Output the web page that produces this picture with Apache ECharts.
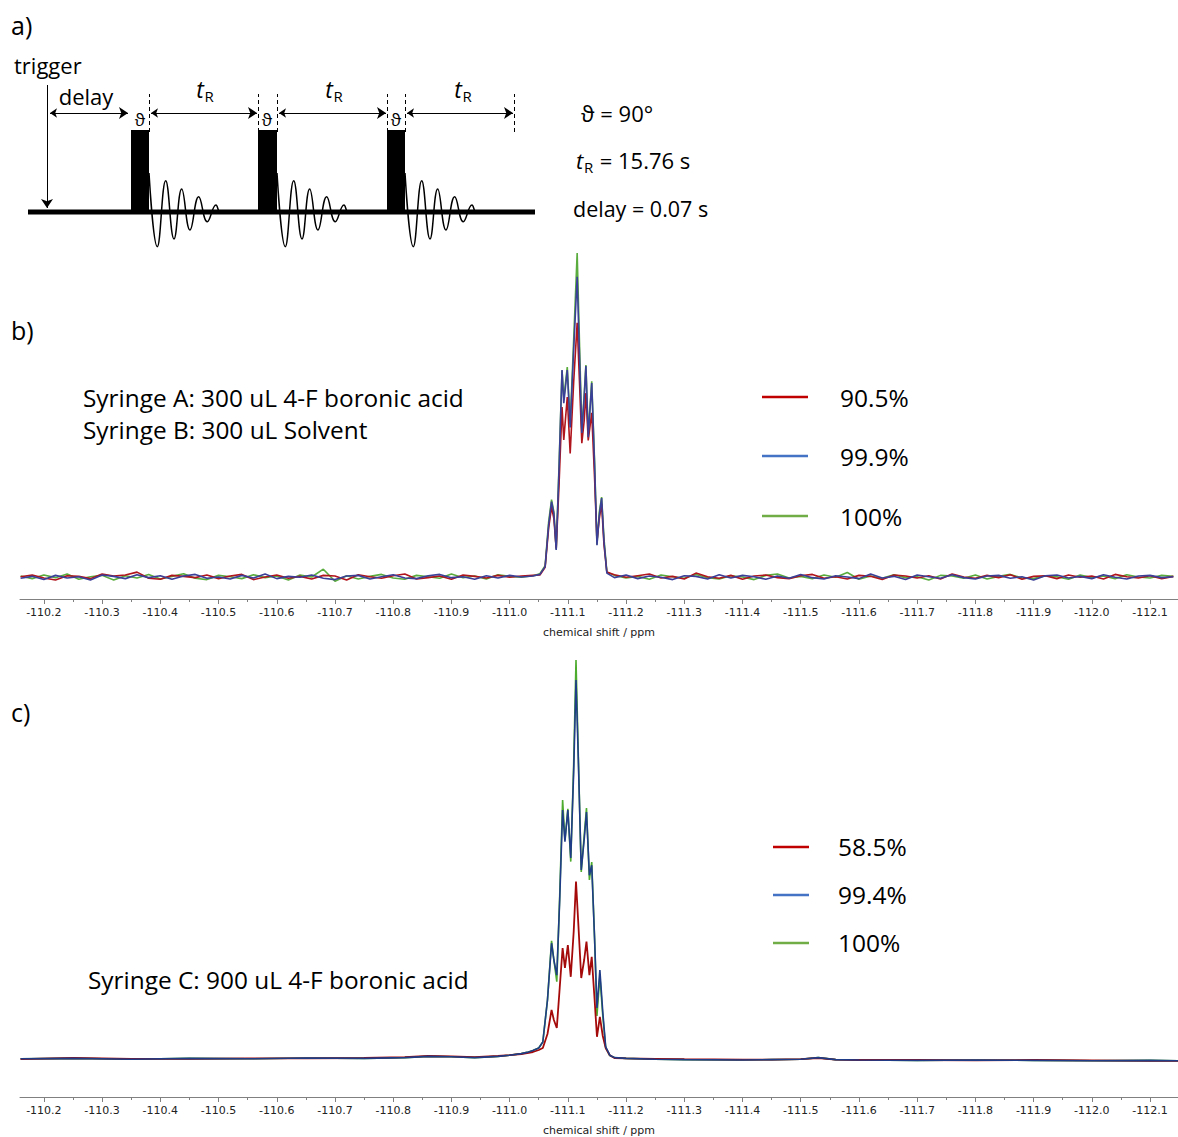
<!DOCTYPE html>
<html>
<head>
<meta charset="utf-8">
<title>19F NMR – triggered acquisition</title>
<script src="https://cdn.jsdelivr.net/npm/echarts@6/dist/echarts.min.js"></script>
<style>
  html, body { margin: 0; padding: 0; background: #fff; }
  #chart { width: 1178px; height: 1137px; }
</style>
</head>
<body>
<div id="chart"></div>
<script>
// ---------- spectrum b: chemical shift grid (ppm) ----------
const ppmB = [
  -110.16, -110.18, -110.20, -110.22, -110.24, -110.26, -110.28, -110.30, -110.32, -110.34,
  -110.36, -110.38, -110.40, -110.42, -110.44, -110.46, -110.48, -110.50, -110.52, -110.54,
  -110.56, -110.58, -110.60, -110.62, -110.64, -110.66, -110.68, -110.70, -110.72, -110.74,
  -110.76, -110.78, -110.80, -110.82, -110.84, -110.86, -110.88, -110.90, -110.92, -110.94,
  -110.96, -110.98, -111.00, -111.02, -111.04,
  -111.052, -111.061, -111.067, -111.072, -111.076, -111.080, -111.085, -111.090, -111.093, -111.099,
  -111.104, -111.110, -111.116, -111.120, -111.124, -111.128, -111.131, -111.135, -111.141, -111.146,
  -111.150, -111.154, -111.158, -111.162, -111.167,
  -111.18, -111.20, -111.22, -111.24, -111.26, -111.28, -111.30, -111.32, -111.34, -111.36,
  -111.38, -111.40, -111.42, -111.44, -111.46, -111.48, -111.50, -111.52, -111.54, -111.56,
  -111.58, -111.60, -111.62, -111.64, -111.66, -111.68, -111.70, -111.72, -111.74, -111.76,
  -111.78, -111.80, -111.82, -111.84, -111.86, -111.88, -111.90, -111.92, -111.94, -111.96,
  -111.98, -112.00, -112.02, -112.04, -112.06, -112.08, -112.10, -112.12, -112.14
];
// intensities (tallest line of the 100% trace = 100)
const b100 = [
  0.3, -0.5, 0.6, -0.2, 0.9, -0.7, 0.1, 0.5, -0.9, 0.4,
  -0.3, 0.8, -0.6, 0.2, 1.0, -0.4, -0.8, 0.5, 0.1, -0.5,
  0.7, -0.2, 0.3, -0.9, 0.6, 0.0, 2.4, -1.3, 0.4, -0.6,
  0.2, 0.8, -0.3, -0.7, 0.5, 0.1, -0.4, 0.9, -0.2, 0.3,
  -0.6, 0.7, 0.2, -0.1, 0.4,
  1.0, 3.5, 17, 23.8, 20, 8.5, 35, 63.5, 55, 64.6,
  47, 73, 99.7, 72, 45, 56, 65.2, 44, 60.2, 35,
  10, 20, 24.6, 12, 1.5,
  0.5, -0.3, 0.2, -0.7, 0.6, 0.1, -0.4, 0.8, -0.2, -0.6,
  0.4, 0.0, -0.8, 0.5, 0.9, -0.3, 0.2, -0.5, 0.6, -0.1,
  1.4, -0.7, 0.3, -0.4, 0.7, -0.2, 0.1, -0.9, 0.5, 0.3,
  -0.4, 0.6, -0.6, 0.2, 0.8, -0.3, -0.5, 0.4, 0.1, -0.7,
  0.6, -0.2, 0.3, -0.5, 0.7, 0.0, -0.3, 0.5, 0.2
];
const b999 = [
  -0.4, 0.2, -0.8, 0.5, -0.3, 0.1, -0.9, 0.6, 0.2, -0.5,
  0.7, -0.2, 0.4, -0.7, 0.3, 0.8, -0.4, 0.0, -0.6, 0.5,
  -0.3, 0.9, -0.5, 0.2, -0.1, 0.6, -0.4, -0.8, 0.3, 0.5,
  -0.6, 0.1, 0.7, -0.3, -0.5, 0.4, 0.8, -0.2, 0.1, -0.7,
  0.4, -0.3, 0.5, 0.0, 0.3,
  0.8, 3.2, 16, 23.2, 19.5, 8.3, 34, 63.7, 53.5, 63.7,
  46, 70, 92.4, 68, 44.3, 55, 64.9, 43, 59.7, 34,
  9.8, 19, 24.3, 11, 1.2,
  -0.2, 0.6, -0.5, 0.3, -0.1, -0.8, 0.4, 0.2, -0.6, 0.7,
  -0.3, 0.5, 0.1, -0.7, 0.3, -0.4, 0.8, -0.2, -0.6, 0.4,
  0.0, -0.5, 0.9, -0.3, 0.2, -0.8, 0.6, 0.1, -0.4, 0.7,
  -0.2, -0.6, 0.3, 0.5, -0.4, 0.1, -0.9, 0.4, 0.6, -0.3,
  0.2, -0.5, 0.7, -0.1, -0.6, 0.3, 0.5, -0.2, 0.1
];
const b905 = [
  0.1, 0.6, -0.3, -0.9, 0.4, 0.2, -0.5, 0.9, 0.3, 0.6,
  1.5, -0.4, -0.7, 0.5, 0.2, -0.2, 0.6, -0.5, 0.3, 0.8,
  -0.8, 0.0, 0.6, -0.4, 0.2, -0.6, 0.5, 0.3, -0.9, 0.7,
  0.1, -0.4, 0.4, 0.9, -0.6, -0.2, 0.3, -0.7, 0.6, 0.2,
  -0.3, 0.5, -0.1, 0.3, 0.5,
  0.6, 3.0, 15, 21.5, 18, 8.8, 29, 52.3, 42.2, 55.4,
  38, 60, 78.2, 60, 41.2, 48, 56.6, 42, 50.5, 30,
  11, 18, 22.5, 10, 1.5,
  0.7, -0.1, 0.4, 0.9, -0.3, 0.2, -0.6, 1.2, 0.1, -0.4,
  0.5, -0.7, 0.3, 0.6, -0.2, -0.5, 0.4, 0.8, -0.4, 0.1,
  -0.6, 0.5, 0.2, -0.8, 0.6, 0.3, -0.3, 0.4, -0.6, 0.9,
  0.0, -0.4, 0.5, -0.2, 0.7, -0.7, 0.2, 0.4, -0.5, 0.6,
  -0.1, 0.3, -0.6, 0.8, 0.1, -0.3, 0.4, -0.5, 0.2
];

// ---------- spectrum c ----------
const ppmC = [
  -110.16, -110.25, -110.35, -110.45, -110.55, -110.65, -110.75, -110.82, -110.86, -110.90,
  -110.94, -110.98, -111.00, -111.02, -111.03, -111.04,
  -111.050, -111.057, -111.065, -111.072, -111.076, -111.081, -111.086, -111.091, -111.095, -111.100,
  -111.105, -111.110, -111.114, -111.118, -111.123, -111.128, -111.132, -111.137, -111.141, -111.146,
  -111.150, -111.155, -111.160, -111.165, -111.172,
  -111.18, -111.20, -111.25, -111.30, -111.40, -111.45, -111.50, -111.53, -111.56, -111.60,
  -111.70, -111.80, -111.90, -112.00, -112.10, -112.15
];
const c100 = [
  0.3, 0.4, 0.2, 0.4, 0.3, 0.5, 0.4, 0.6, 0.9, 0.8,
  0.6, 0.9, 1.2, 1.6, 1.9, 2.4,
  3.0, 4.5, 15, 29.8, 25, 19.6, 41, 65, 55, 62.8,
  49.6, 74, 100, 76, 47, 56, 63, 45, 49.5, 30,
  11, 21, 11, 3.1, 1.1,
  0.6, 0.4, 0.2, 0.1, 0.0, 0.1, 0.2, 0.6, 0.1, 0.0,
  -0.1, 0.0, -0.1, -0.2, -0.1, -0.2
];
const c994 = [
  0.3, 0.4, 0.2, 0.4, 0.3, 0.5, 0.4, 0.6, 0.9, 0.8,
  0.6, 0.9, 1.2, 1.6, 1.9, 2.4,
  3.0, 4.5, 15, 29.2, 25, 21.2, 40, 62.5, 54.6, 62.5,
  50.5, 72, 95, 75, 47.5, 55, 62, 46.2, 48.7, 30,
  13, 22.5, 12, 3.3, 1.2,
  0.6, 0.4, 0.2, 0.1, 0.0, 0.1, 0.2, 0.6, 0.1, 0.0,
  -0.1, 0.0, -0.1, -0.2, -0.1, -0.2
];
const c585 = [
  0.2, 0.5, 0.3, 0.3, 0.4, 0.4, 0.5, 0.7, 1.0, 0.9,
  0.7, 1.0, 1.2, 1.5, 1.7, 2.0,
  2.5, 3.0, 6.5, 12.5, 10, 8, 18, 28, 23, 28.7,
  20.8, 32, 44.6, 34, 20.5, 25, 29.6, 21.2, 25.8, 15,
  5.8, 10.8, 6, 3, 1.2,
  0.5, 0.4, 0.3, 0.2, 0.1, 0.1, 0.2, 0.5, 0.1, 0.0,
  0.0, -0.1, 0.0, -0.1, -0.2, -0.2
];

// ---------- axis ticks (ppm) ----------
const majorTicks = [-110.2, -110.3, -110.4, -110.5, -110.6, -110.7, -110.8, -110.9, -111.0, -111.1,
  -111.2, -111.3, -111.4, -111.5, -111.6, -111.7, -111.8, -111.9, -112.0, -112.1];
const minorTicks = [-110.25, -110.35, -110.45, -110.55, -110.65, -110.75, -110.85, -110.95, -111.05,
  -111.15, -111.25, -111.35, -111.45, -111.55, -111.65, -111.75, -111.85, -111.95, -112.05];

// ---------- pulse sequence (time units of the sketch) ----------
const seqBaseline = [28, 535];
const pulses = [[131, 149], [258, 277], [387, 405]];
const pulseHeight = 82;
const fidShape = [[0, 39], [8.3, -34.7], [16.7, 31.3], [25, -27], [32.7, 23], [41, -18],
  [49.7, 15.3], [58.3, -9.7], [67, 7], [71, 0], [73, 0]];
const dashedMarks = [149, 258, 277, 387, 405, 514];
const delaySpan = [50, 128];
const tRSpans = [[151, 257], [279, 386], [407, 513]];
const triggerAt = 47;

const pair = (xs, ys) => xs.map((x, i) => [x, ys[i]]);

const FONT = 'Open Sans';
const txt = (x, y, text, size, extra) => ({
  type: 'text', x, y: y - 1.5, silent: true,
  style: Object.assign({ text, fontFamily: FONT, fontSize: size, fill: '#000', textVerticalAlign: 'middle' }, extra || {})
});
const legLine = (x1, x2, y, color) => ({
  type: 'line', silent: true,
  shape: { x1, y1: y, x2, y2: y },
  style: { stroke: color, lineWidth: 2.5 }
});

function spectrumAxes(gridIndex) {
  return [
    {
      type: 'value', gridIndex, position: 'bottom', inverse: true, min: -112.148, max: -110.159,
      splitLine: { show: false },
      axisLine: { show: true, onZero: false, lineStyle: { color: '#808080', width: 1 } },
      axisTick: { show: true, customValues: majorTicks, length: 5, lineStyle: { color: '#808080' } },
      axisLabel: {
        show: true, customValues: majorTicks, margin: 8,
        fontFamily: 'DejaVu Sans', fontSize: 11, color: '#222',
        formatter: v => v.toFixed(1)
      },
      name: 'chemical shift / ppm', nameLocation: 'middle', nameGap: 28,
      nameTextStyle: { fontFamily: 'DejaVu Sans', fontSize: 11, color: '#222' }
    },
    {
      type: 'value', gridIndex, position: 'bottom', inverse: true, min: -112.148, max: -110.159,
      splitLine: { show: false },
      axisLine: { show: false, onZero: false },
      axisTick: { show: true, customValues: minorTicks, length: 3, lineStyle: { color: '#808080' } },
      axisLabel: { show: false }
    }
  ];
}

const lineSeries = (name, xAxisIndex, yAxisIndex, data, color, width) => ({
  name, type: 'line', xAxisIndex, yAxisIndex, data,
  showSymbol: false, symbol: 'none', silent: true,
  lineStyle: { color, width }
});

const chart = echarts.init(document.getElementById('chart'), null, { renderer: 'svg' });

const option = {
  animation: false,
  backgroundColor: '#ffffff',
  grid: [
    { left: 0, top: 60, width: 560, height: 200 },
    { left: 20, top: 250, width: 1158, height: 349 },
    { left: 20, top: 655, width: 1158, height: 442 }
  ],
  xAxis: [
    { type: 'value', gridIndex: 0, min: 0, max: 560, show: false },
    ...spectrumAxes(1),
    ...spectrumAxes(2)
  ],
  yAxis: [
    { type: 'value', gridIndex: 0, min: -48, max: 152, show: false },
    { type: 'value', gridIndex: 1, min: -6.769, max: 100.615, show: false },
    { type: 'value', gridIndex: 2, min: -9.25, max: 101.25, show: false }
  ],
  series: [
    // pulse sequence
    {
      type: 'custom', xAxisIndex: 0, yAxisIndex: 0, silent: true,
      data: pulses.map(p => [p[0], p[1], pulseHeight]),
      encode: { x: [0, 1], y: 2 },
      renderItem: (params, api) => {
        const tl = api.coord([api.value(0), api.value(2)]);
        const br = api.coord([api.value(1), 0]);
        return { type: 'rect', shape: { x: tl[0], y: tl[1], width: br[0] - tl[0], height: br[1] - tl[1] }, style: { fill: '#000' } };
      }
    },
    ...pulses.map(p => ({
      type: 'line', xAxisIndex: 0, yAxisIndex: 0, silent: true, showSymbol: false, symbol: 'none',
      smooth: 0.45,
      data: fidShape.map(([dx, v]) => [p[1] + dx, v]),
      lineStyle: { color: '#000', width: 1.5 }
    })),
    {
      type: 'line', xAxisIndex: 0, yAxisIndex: 0, silent: true, showSymbol: false, symbol: 'none',
      data: seqBaseline.map(x => [x, 0]),
      lineStyle: { color: '#000', width: 5 }
    },
    {
      type: 'lines', coordinateSystem: 'cartesian2d', xAxisIndex: 0, yAxisIndex: 0, silent: true,
      symbol: ['none', 'none'],
      lineStyle: { color: '#000', width: 1, type: [4, 3], opacity: 1 },
      data: dashedMarks.map(x => ({ coords: [[x, 80], [x, 118]] }))
    },
    {
      type: 'lines', coordinateSystem: 'cartesian2d', xAxisIndex: 0, yAxisIndex: 0, silent: true,
      symbol: ['arrow', 'arrow'], symbolSize: [7, 9],
      lineStyle: { color: '#000', width: 1, opacity: 1 },
      data: [{ coords: [[delaySpan[0], 99], [delaySpan[1], 99]] }]
        .concat(tRSpans.map(s => ({ coords: [[s[0], 99], [s[1], 99]] })))
    },
    {
      type: 'lines', coordinateSystem: 'cartesian2d', xAxisIndex: 0, yAxisIndex: 0, silent: true,
      symbol: ['none', 'arrow'], symbolSize: [7, 9],
      lineStyle: { color: '#000', width: 1, opacity: 1 },
      data: [{ coords: [[triggerAt, 127], [triggerAt, 4]] }]
    },
    // spectrum b
    lineSeries('100%', 1, 1, pair(ppmB, b100), '#5aac3e', 1.6),
    lineSeries('90.5%', 1, 1, pair(ppmB, b905), '#b0141c', 1.6),
    lineSeries('99.9%', 1, 1, pair(ppmB, b999), '#3a3f98', 1.6),
    // spectrum c
    lineSeries('100%', 3, 2, pair(ppmC, c100), '#4dab2e', 1.6),
    lineSeries('58.5%', 3, 2, pair(ppmC, c585), '#a50a0a', 1.8),
    lineSeries('99.4%', 3, 2, pair(ppmC, c994), '#1f3c88', 1.6)
  ],
  graphic: [
    txt(11, 26, 'a)', 25),
    txt(14, 66, 'trigger', 22),
    txt(86, 97, 'delay', 22, { textAlign: 'center' }),
    txt(140, 121, 'ϑ', 17, { textAlign: 'center' }),
    txt(267, 121, 'ϑ', 17, { textAlign: 'center' }),
    txt(396, 121, 'ϑ', 17, { textAlign: 'center' }),
    txt(200, 90, 't', 23, { textAlign: 'center', fontStyle: 'italic' }),
    txt(209, 97, 'R', 15, { textAlign: 'center' }),
    txt(329, 90, 't', 23, { textAlign: 'center', fontStyle: 'italic' }),
    txt(338, 97, 'R', 15, { textAlign: 'center' }),
    txt(458, 90, 't', 23, { textAlign: 'center', fontStyle: 'italic' }),
    txt(467, 97, 'R', 15, { textAlign: 'center' }),
    txt(581, 114, 'ϑ = 90°', 22),
    txt(576, 161, 't', 22, { fontStyle: 'italic' }),
    txt(584, 168, 'R', 15),
    txt(594, 161, ' = 15.76 s', 22),
    txt(573, 210, 'delay = 0.07 s', 21.5),

    txt(11, 331, 'b)', 25),
    txt(83, 399, 'Syringe A: 300 uL 4-F boronic acid', 24.4),
    txt(83, 431, 'Syringe B: 300 uL Solvent', 24.4),
    legLine(762, 808, 397, '#c00000'),
    legLine(762, 808, 456, '#4472c4'),
    legLine(762, 808, 516, '#70ad47'),
    txt(840, 399, '90.5%', 24.5),
    txt(840, 458, '99.9%', 24.5),
    txt(840, 518, '100%', 24.5),

    txt(11, 713, 'c)', 25),
    txt(88, 981, 'Syringe C: 900 uL 4-F boronic acid', 24.4),
    legLine(773, 809, 847, '#c00000'),
    legLine(773, 809, 895, '#4472c4'),
    legLine(773, 809, 943, '#70ad47'),
    txt(838, 848, '58.5%', 24.5),
    txt(838, 896, '99.4%', 24.5),
    txt(838, 944, '100%', 24.5)
  ]
};

chart.setOption(option);
</script>
</body>
</html>
